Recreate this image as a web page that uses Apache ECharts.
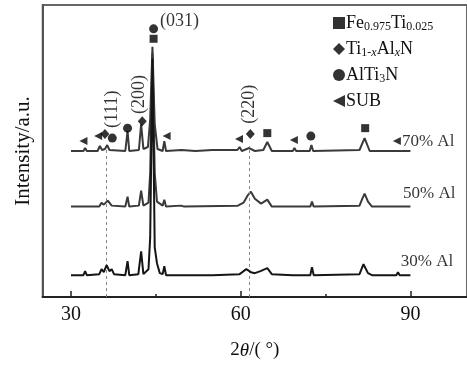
<!DOCTYPE html>
<html><head><meta charset="utf-8">
<script src="https://cdn.jsdelivr.net/npm/echarts@6/dist/echarts.min.js"></script>
<style>html,body{margin:0;padding:0;background:#fff}#c{width:467px;height:365px}</style>
</head><body><div id="c"></div>
<script>
const xMajorTicks = [30, 60, 90];
const xMinorTicks = [45, 75];
const s70 = [[30,147],[32.2,147],[32.5,150],[32.8,147],[34.7,147],[35.1,152],[35.5,148],[36.0,149],[36.4,153],[36.8,148],[39.6,147],[40.0,167],[40.3,147],[42.0,148],[42.4,174],[42.8,149],[43.6,151],[44.0,179],[44.4,252],[44.8,174],[45.3,149],[46.2,147],[46.5,157],[46.8,147],[49.5,148],[52,147],[55,148],[59.4,148],[59.8,151],[60.2,147],[61.5,150],[62.5,147],[64.0,148],[64.7,156],[65.5,147],[69.2,147],[69.5,150],[69.8,147],[72.2,147],[72.5,153],[72.8,147],[81.0,148],[81.9,160],[82.8,147],[87.6,147],[87.9,149],[88.2,147],[90,147]];
const s50 = [[30,91],[32.2,91],[32.5,93],[32.8,91],[35.0,91],[35.4,95],[35.8,93],[36.5,97],[37.2,92],[39.6,91],[40.0,101],[40.3,91],[42.0,92],[42.4,107],[42.8,92],[43.7,95],[44.0,125],[44.4,245],[44.8,125],[45.2,96],[46.2,92],[46.5,98],[46.8,91],[49.5,92],[50,91],[59.5,92],[60.5,95],[61.2,102],[61.8,106],[62.5,99],[63.6,94],[64.7,98],[65.5,91],[69.2,91],[69.5,93],[69.8,91],[72.3,91],[72.6,96],[72.9,91],[81.0,92],[81.5,99],[81.9,104],[82.5,96],[83.2,91],[87.6,91],[87.9,93],[88.2,91],[90,91]];
const s30 = [[30,22],[32.2,22],[32.5,26],[32.8,22],[35.0,23],[35.4,28],[35.8,25],[36.3,32],[36.8,26],[37.2,28],[37.6,23],[39.6,22],[40.0,36],[40.3,22],[41.9,23],[42.4,46],[42.8,23],[43.7,28],[44.0,60],[44.4,240],[44.8,50],[45.2,34],[45.7,24],[46.2,23],[46.5,31],[46.8,22],[49.3,22],[49.5,24],[49.7,22],[55,22],[59.8,23],[60.5,26],[61.0,28],[61.8,25],[62.5,24],[63.5,26],[64.7,29],[65.5,23],[69.2,22],[69.5,24],[69.8,22],[72.3,22],[72.6,30],[72.9,22],[81.0,23],[81.7,33],[82.5,24],[83.2,22],[87.5,22],[87.8,25],[88.1,22],[90,22]];
const curveNames = ['70% Al', '50% Al', '30% Al'];
const curveLabelPos = [[88.5,157],[88.7,104],[88.3,36]];
const feTiPeaks = [[44.6,260],[64.7,165],[82.0,170]];
const tiAlNPeaks = [[36.0,164],[42.6,177],[61.7,164]];
const alTi3NPeaks = [[37.3,160],[40.0,170],[44.6,270],[72.4,162]];
const subPeaks = [[32.2,157],[34.8,162],[46.9,162],[59.7,159],[69.4,158],[87.6,157]];
const planeLabels = [['(111)',37.3,189,90],['(200)',42.1,204,90],['(220)',61.5,194,90],['(031)',49.2,278,0]];
const refLines = [[36.3,150],[61.5,152]];
const phaseNames = ['Fe0.975Ti0.025','Ti1-xAlxN','AlTi3N','SUB'];

const FONT = '"Liberation Serif","Times New Roman",serif';
const triLeft = 'path://M10,0L10,10L0,5Z';
const richLegend = {
  n: {fontFamily: FONT, fontSize: 18, color: '#111', lineHeight: 20},
  s: {fontFamily: FONT, fontSize: 12, color: '#111', verticalAlign: 'bottom', lineHeight: 14},
  si: {fontFamily: FONT, fontSize: 12, color: '#111', fontStyle: 'italic', verticalAlign: 'bottom', lineHeight: 14}
};
const legendFmt = {
  'Fe0.975Ti0.025': '{n|Fe}{s|0.975}{n|Ti}{s|0.025}',
  'Ti1-xAlxN': '{n|Ti}{s|1-}{si|x}{n|Al}{si|x}{n|N}',
  'AlTi3N': '{n|AlTi}{s|3}{n|N}',
  'SUB': '{n|SUB}'
};

const chart = echarts.init(document.getElementById('c'), null, {renderer: 'canvas'});
const curves = [s70, s50, s30];
const curveColors = ['#3a3a3a', '#3a3a3a', '#151515'];
const series = [];
curves.forEach((d, i) => {
  series.push({
    type: 'line', name: curveNames[i], data: d, symbol: 'none', silent: true,
    lineStyle: {color: curveColors[i], width: 2}, z: 3 + i,
    markLine: i === 0 ? {
      silent: true, symbol: 'none', label: {show: false},
      lineStyle: {color: '#888', type: [3, 3], width: 1},
      data: refLines.map(r => [{coord: [r[0], 0]}, {coord: [r[0], r[1]]}])
    } : undefined
  });
});
const markerSpecs = [
  [phaseNames[0], feTiPeaks, 'rect', 8],
  [phaseNames[1], tiAlNPeaks, 'diamond', [9, 10]],
  [phaseNames[2], alTi3NPeaks, 'circle', 9],
  [phaseNames[3], subPeaks, triLeft, [8, 8]]
];
markerSpecs.forEach(m => {
  series.push({type: 'scatter', name: m[0], data: m[1], symbol: m[2], symbolSize: m[3],
    itemStyle: {color: '#000'}, z: 10, silent: true});
});
series.push({
  type: 'scatter', name: 'curveLabels', symbolSize: 0, silent: true, z: 11,
  data: curveLabelPos.map((p, i) => ({value: p, label: {formatter: curveNames[i]}})),
  label: {show: true, position: 'right', distance: 0, fontFamily: FONT, fontSize: 17, color: '#000'}
});
series.push({
  type: 'scatter', name: 'planes', symbolSize: 0, silent: true, z: 11,
  data: planeLabels.map(p => ({value: [p[1], p[2]], label: {formatter: p[0], rotate: p[3]}})),
  label: {show: true, position: 'inside', fontFamily: FONT, fontSize: 18, color: '#000'}
});

chart.setOption({
  animation: false,
  backgroundColor: '#fff',
  grid: {left: 42.7, right: -3, top: 5, bottom: 66, show: true, borderColor: '#666', borderWidth: 2},
  legend: {
    orient: 'vertical', left: 328, top: 9, itemWidth: 12, itemHeight: 12, itemGap: 7,
    selectedMode: false,
    data: [
      {name: phaseNames[0], icon: 'rect'},
      {name: phaseNames[1], icon: 'diamond'},
      {name: phaseNames[2], icon: 'circle'},
      {name: phaseNames[3], icon: triLeft}
    ],
    itemStyle: {color: '#000'},
    formatter: n => legendFmt[n],
    textStyle: {rich: richLegend, padding: [0, 0, 0, -4]}
  },
  xAxis: [{
    type: 'value', min: 25, max: 100, position: 'bottom',
    splitLine: {show: false},
    axisLine: {show: true, lineStyle: {color: '#222', width: 2}},
    axisTick: {show: true, inside: true, length: 6, customValues: xMajorTicks, lineStyle: {color: '#222', width: 1.5}},
    axisLabel: {show: true, customValues: xMajorTicks, fontFamily: FONT, fontSize: 20, color: '#111', margin: 8},
    name: '{a|2}{i|θ}{a|/( °)}', nameLocation: 'middle', nameGap: 44,
    nameTextStyle: {rich: {a: {fontFamily: FONT, fontSize: 19, color: '#111'}, i: {fontFamily: FONT, fontSize: 19, fontStyle: 'italic', color: '#111'}}}
  }, {
    type: 'value', min: 25, max: 100, position: 'bottom',
    splitLine: {show: false}, axisLine: {show: false},
    axisTick: {show: true, inside: true, length: 3, customValues: xMinorTicks, lineStyle: {color: '#222', width: 1.5}},
    axisLabel: {show: false}
  }],
  yAxis: {
    type: 'value', min: 0, max: 294,
    splitLine: {show: false}, axisTick: {show: false}, axisLabel: {show: false},
    axisLine: {show: true, lineStyle: {color: '#555', width: 2}},
    name: 'Intensity/a.u.', nameLocation: 'middle', nameGap: 9,
    nameTextStyle: {fontFamily: FONT, fontSize: 21, color: '#111'}
  },
  series: series
});
</script></body></html>
